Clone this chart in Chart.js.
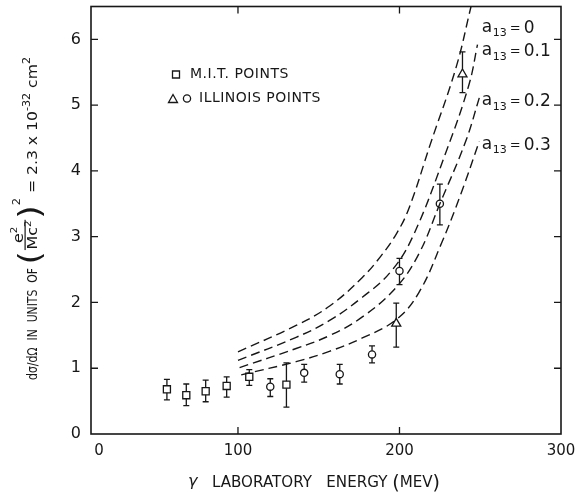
<!DOCTYPE html>
<html>
<head>
<meta charset="utf-8">
<script src="https://cdn.jsdelivr.net/npm/chart.js@4.4.0/dist/chart.umd.min.js"></script>
<style>
  html, body { margin: 0; padding: 0; background: #fff; }
</style>
</head>
<body>
<canvas id="chartCross" width="579" height="494"></canvas>
<script>
// M.I.T. points (squares)
const mitEnergy = [56, 68, 80, 93, 107, 130];
const mitValue  = [0.68, 0.59, 0.65, 0.73, 0.87, 0.75];
const mitLow    = [0.52, 0.43, 0.49, 0.56, 0.74, 0.41];
const mitHigh   = [0.83, 0.76, 0.82, 0.87, 0.98, 1.08];

// Illinois points (circles)
const illCircEnergy = [120, 141, 163, 183, 200, 225];
const illCircValue  = [0.72, 0.93, 0.91, 1.21, 2.48, 3.50];
const illCircLow    = [0.57, 0.79, 0.76, 1.08, 2.27, 3.18];
const illCircHigh   = [0.84, 1.06, 1.06, 1.34, 2.67, 3.80];

// Illinois points (triangles)
const illTriEnergy = [198, 239];
const illTriValue  = [1.68, 5.47];
const illTriLow    = [1.32, 5.19];
const illTriHigh   = [1.99, 5.81];

// theory curves, one per a13
const curveA0Energy  = [100, 136, 157, 177, 188, 198, 206, 219, 235, 244.3];
const curveA0Value   = [1.25, 1.65, 1.95, 2.38, 2.69, 3.04, 3.44, 4.40, 5.57, 6.50];
const curveA01Energy = [100, 136, 157, 177, 194, 208, 229, 243, 248.3];
const curveA01Value  = [1.12, 1.47, 1.73, 2.08, 2.45, 2.99, 4.30, 5.31, 5.92];
const curveA02Energy = [101, 136, 157, 177, 198, 212, 225, 241, 249.4];
const curveA02Value  = [1.01, 1.30, 1.50, 1.78, 2.23, 2.74, 3.50, 4.45, 5.11];
const curveA03Energy = [102, 136, 157, 177, 198, 212, 226, 238, 249.4];
const curveA03Value  = [0.90, 1.10, 1.26, 1.46, 1.74, 2.15, 2.90, 3.65, 4.45];
const curveNames = ['0', '0.1', '0.2', '0.3'];

// tick labels (the "0" is printed just right of the axis corner)
const xTickValues = [14, 100, 200, 300];
const xTickLabels = ['0', '100', '200', '300'];
const yTickValues = [0, 1, 2, 3, 4, 5, 6];

const FONT = '"DejaVu Sans", sans-serif';
const INK = '#171717';

function pts(xs, ys) {
    return xs.map((x, i) => ({ x: x, y: ys[i] }));
}

function curveSet(xs, ys) {
    return {
        data: pts(xs, ys),
        showLine: true,
        pointRadius: 0,
        borderColor: INK,
        borderWidth: 1.4,
        borderDash: [9, 5],
        tension: 0.4,
        fill: false
    };
}

function markSet(xs, ys, lo, hi, style, radius) {
    return {
        data: pts(xs, ys),
        showLine: false,
        pointStyle: style,
        pointRadius: radius,
        pointBorderWidth: 1.3,
        pointBorderColor: INK,
        pointBackgroundColor: '#fff',
        errLow: lo,
        errHigh: hi
    };
}

// error bars with caps, drawn under the markers
const errorBars = {
    id: 'errorBars',
    beforeDatasetsDraw(chart) {
        const ctx = chart.ctx;
        const ys = chart.scales.y;
        ctx.save();
        ctx.strokeStyle = INK;
        ctx.lineWidth = 1.3;
        chart.data.datasets.forEach((ds, i) => {
            if (!ds.errLow) return;
            chart.getDatasetMeta(i).data.forEach((el, j) => {
                const top = ys.getPixelForValue(ds.errHigh[j]);
                const bot = ys.getPixelForValue(ds.errLow[j]);
                ctx.beginPath();
                ctx.moveTo(el.x, top); ctx.lineTo(el.x, bot);
                ctx.moveTo(el.x - 3, top); ctx.lineTo(el.x + 3, top);
                ctx.moveTo(el.x - 3, bot); ctx.lineTo(el.x + 3, bot);
                ctx.stroke();
            });
        });
        ctx.restore();
    }
};

// box round the plot with inward tick marks
const frame = {
    id: 'frame',
    afterDatasetsDraw(chart) {
        const ctx = chart.ctx;
        const a = chart.chartArea;
        const xs = chart.scales.x, ys = chart.scales.y;
        ctx.save();
        ctx.strokeStyle = INK;
        ctx.lineWidth = 1.6;
        ctx.strokeRect(a.left, a.top, a.right - a.left, a.bottom - a.top);
        ctx.lineWidth = 1.3;
        ctx.beginPath();
        [1, 2, 3, 4, 5, 6].forEach(v => {
            const y = ys.getPixelForValue(v);
            ctx.moveTo(a.left, y); ctx.lineTo(a.left + 7, y);
            ctx.moveTo(a.right, y); ctx.lineTo(a.right - 7, y);
        });
        [100, 200].forEach(v => {
            const x = xs.getPixelForValue(v);
            ctx.moveTo(x, a.bottom); ctx.lineTo(x, a.bottom - 7);
            ctx.moveTo(x, a.top); ctx.lineTo(x, a.top + 7);
        });
        ctx.stroke();
        ctx.restore();
    }
};

function drawMarker(ctx, style, x, y) {
    ctx.save();
    ctx.beginPath();
    if (style === 'rect') {
        ctx.rect(x - 3.5, y - 3.5, 7, 7);
    } else if (style === 'circle') {
        ctx.arc(x, y, 3.6, 0, Math.PI * 2);
    } else {
        ctx.moveTo(x, y - 5);
        ctx.lineTo(x + 4.5, y + 3);
        ctx.lineTo(x - 4.5, y + 3);
        ctx.closePath();
    }
    ctx.fillStyle = '#fff';
    ctx.fill();
    ctx.stroke();
    ctx.restore();
}

// legend, curve labels and axis titles
const annotations = {
    id: 'annotations',
    afterDraw(chart) {
        const ctx = chart.ctx;
        const a = chart.chartArea;
        const xs = chart.scales.x, ys = chart.scales.y;
        ctx.save();
        ctx.fillStyle = INK;
        ctx.strokeStyle = INK;
        ctx.lineWidth = 1.3;
        ctx.textBaseline = 'middle';

        // legend
        ctx.font = '14px ' + FONT;
        ctx.letterSpacing = '0.5px';
        drawMarker(ctx, 'rect', a.left + 85, a.top + 68);
        ctx.fillText('M.I.T. POINTS', a.left + 99, a.top + 68);
        drawMarker(ctx, 'triangle', a.left + 82, a.top + 93);
        drawMarker(ctx, 'circle', a.left + 96, a.top + 92);
        ctx.fillText('ILLINOIS POINTS', a.left + 108, a.top + 92);
        ctx.letterSpacing = '0px';

        // a13 labels
        const labelY = [6.17, 5.81, 5.05, 4.39];
        curveNames.forEach((name, k) => {
            let x = xs.getPixelForValue(251);
            const y = ys.getPixelForValue(labelY[k]);
            ctx.font = '17px ' + FONT;
            ctx.fillText('a', x, y - 1);
            x += ctx.measureText('a').width + 0.5;
            ctx.font = '11px ' + FONT;
            ctx.fillText('13', x, y + 5);
            x += ctx.measureText('13').width + 3;
            ctx.font = '13px ' + FONT;
            ctx.fillText('=', x, y);
            x += ctx.measureText('=').width + 3;
            ctx.font = '17px ' + FONT;
            ctx.fillText(name, x, y);
        });

        // x title
        ctx.textBaseline = 'alphabetic';
        drawRun(ctx, [
            { t: 'γ', f: 'italic 16px', dy: -1 },
            { t: '   LABORATORY   ENERGY ', f: '15px', dy: 0 },
            { t: '(', f: '19px', dy: 2 },
            { t: 'MEV', f: '15px', dy: 0 },
            { t: ')', f: '19px', dy: 2 }
        ], 188, 487, 252);

        // y title, rotated
        ctx.translate(37, 380);
        ctx.rotate(-Math.PI / 2);
        drawYTitle(ctx);
        ctx.restore();
    }
};

// draw a run of text pieces squeezed to a fixed length
function drawRun(ctx, pieces, x0, y0, len) {
    let total = 0;
    pieces.forEach(p => { ctx.font = p.f + ' ' + FONT; p.w = ctx.measureText(p.t).width; total += p.w; });
    const sx = len / total;
    ctx.save();
    ctx.translate(x0, y0);
    ctx.scale(sx, 1);
    let x = 0;
    pieces.forEach(p => {
        ctx.font = p.f + ' ' + FONT;
        ctx.fillText(p.t, x, p.dy);
        x += p.w;
    });
    ctx.restore();
}

// y title: "dσ/dΩ IN UNITS OF (e²/Mc²)² = 2.3 x 10⁻³² cm²"
function drawYTitle(ctx) {
    drawRun(ctx, [{ t: 'dσ/dΩ  IN  UNITS  OF', f: '14px', dy: 0 }], 0, 0, 112);

    // bracketed fraction
    const F = s => s + 'px ' + FONT;
    const w = (t, s) => { ctx.font = F(s); return ctx.measureText(t).width; };
    const num = w('e', 14) + w('2', 9) + 2;
    const den = w('Mc', 14) + w('2', 9);
    const fracW = Math.max(num, den) + 3;
    const nat = 3 + w('(', 30) + fracW + w(')', 30) + w('2', 10);
    ctx.save();
    ctx.translate(112, 0);
    ctx.scale(70 / nat, 1);
    let x = 3;
    const put = (t, s, dy) => { ctx.font = F(s); ctx.fillText(t, x, dy); x += ctx.measureText(t).width; };
    put('(', 30, 3);
    const fx = x;
    x = fx + (fracW - num) / 2 + 1;
    put('e', 14, -14);
    put('2', 9, -20);
    ctx.fillRect(fx + 1, -12.5, fracW - 2, 1.2);
    x = fx + (fracW - den) / 2;
    put('Mc', 14, 0);
    put('2', 9, -6);
    x = fx + fracW;
    put(')', 30, 3);
    put('2', 10, -17);
    ctx.restore();

    drawRun(ctx, [
        { t: ' = 2.3 x 10', f: '14px', dy: 0 },
        { t: '-32', f: '10px', dy: -7 },
        { t: ' cm', f: '14px', dy: 0 },
        { t: '2', f: '10px', dy: -7 }
    ], 182, 0, 141);
}

const ctx = document.getElementById('chartCross').getContext('2d');

new Chart(ctx, {
    type: 'scatter',
    data: {
        datasets: [
            curveSet(curveA0Energy, curveA0Value),
            curveSet(curveA01Energy, curveA01Value),
            curveSet(curveA02Energy, curveA02Value),
            curveSet(curveA03Energy, curveA03Value),
            markSet(mitEnergy, mitValue, mitLow, mitHigh, 'rect', 5),
            markSet(illCircEnergy, illCircValue, illCircLow, illCircHigh, 'circle', 3.6),
            markSet(illTriEnergy, illTriValue, illTriLow, illTriHigh, 'triangle', 5.2)
        ]
    },
    options: {
        responsive: false,
        animation: false,
        events: [],
        layout: { padding: { left: 0, right: 18, top: 5, bottom: 0 } },
        plugins: {
            legend: { display: false },
            tooltip: { enabled: false }
        },
        scales: {
            x: {
                type: 'linear',
                min: 9,
                max: 300,
                grid: { display: false, drawTicks: false },
                border: { display: false },
                afterBuildTicks: s => { s.ticks = xTickValues.map(v => ({ value: v })); },
                afterFit: s => { s.height = 60; s.paddingLeft = 0; s.paddingRight = 0; },
                ticks: {
                    font: { family: FONT, size: 15 },
                    color: INK,
                    padding: 8,
                    maxRotation: 0,
                    autoSkip: false,
                    callback: (v, i) => xTickLabels[i]
                }
            },
            y: {
                min: 0,
                max: 6.5,
                grid: { display: false, drawTicks: false },
                border: { display: false },
                afterBuildTicks: s => { s.ticks = yTickValues.map(v => ({ value: v })); },
                afterFit: s => { s.width = 91; s.paddingTop = 0; s.paddingBottom = 0; },
                ticks: {
                    font: { family: FONT, size: 16 },
                    color: INK,
                    padding: 10,
                    autoSkip: false
                }
            }
        }
    },
    plugins: [errorBars, frame, annotations]
});
</script>
</body>
</html>
